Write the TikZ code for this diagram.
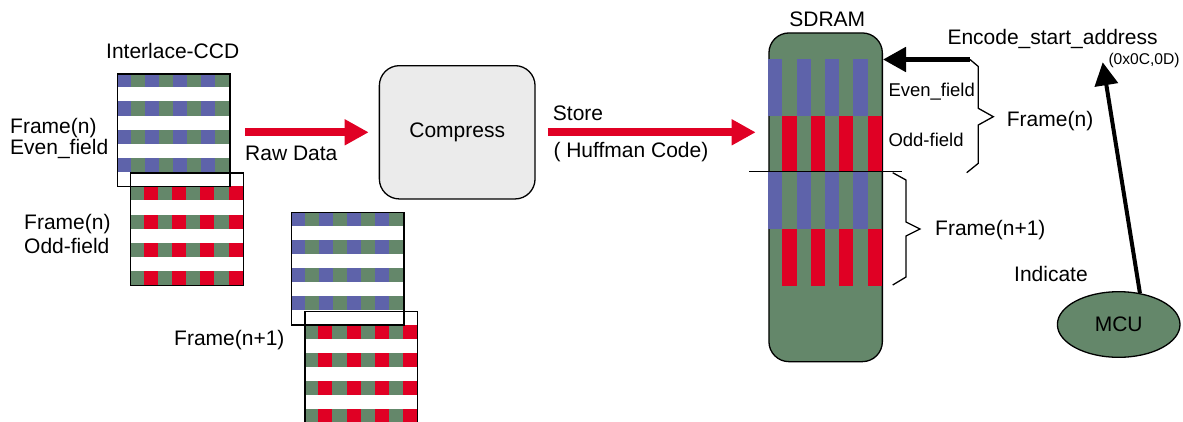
\documentclass[tikz,border=0pt]{standalone}
\usepackage{fontspec}
\setmainfont{Liberation Sans}
\usetikzlibrary{arrows.meta,shapes.geometric}
\definecolor{ccdblue}{RGB}{94,99,170}
\definecolor{ccdgreen}{RGB}{100,135,106}
\definecolor{ccdred}{RGB}{224,0,36}
\definecolor{boxgray}{RGB}{235,235,235}
\newcommand\evenfield{%
  \foreach \r in {0,2,4,6}{%
    \fill[ccdgreen] (0,\r*14.08) rectangle ++(112.64,14.08);
    \foreach \c in {0,2,4,6}{\fill[ccdblue] (\c*14.08,\r*14.08) rectangle ++(14.08,14.08);}}}
\newcommand\oddfield{%
  \foreach \r in {1,3,5,7}{%
    \fill[ccdgreen] (0,\r*14.08) rectangle ++(112.64,14.08);
    \foreach \c in {1,3,5,7}{\fill[ccdred] (\c*14.08,\r*14.08) rectangle ++(14.08,14.08);}}}
\begin{document}
\begin{tikzpicture}[x=1pt,y=-1pt,
  lbl/.style={inner sep=0pt, anchor=base west, font=\fontsize{21}{25}\selectfont},
  lblc/.style={lbl, anchor=base},
  smalllbl/.style={inner sep=0pt, anchor=base west, font=\fontsize{18.5}{22}\selectfont},
  tinylbl/.style={inner sep=0pt, anchor=base west, font=\fontsize{15.6}{18}\selectfont},
  gridframe/.style={draw=black, line width=1.3pt, minimum width=112.64pt, minimum height=112.64pt, inner sep=0pt, anchor=north west},
  redarrow/.style={draw=ccdred, line width=7.7pt, -{Triangle[length=24pt,width=24.5pt]}, ccdred},
  blackarrow/.style={draw=black, line width=5pt, -{Triangle[length=23pt,width=24pt]}},
  mcuarrow/.style={draw=black, line width=4pt, -{Triangle[length=23pt,width=23pt]}},
  bracepath/.style={draw=black, line width=1.3pt},
]
\path[use as bounding box] (0,0) rectangle (1183,421);
\clip (0,0) rectangle (1183,421);

% CCD field grids
\begin{scope}[shift={(116.7,73.3)}]\evenfield\end{scope}
\begin{scope}[shift={(130,172.3)}]\oddfield\end{scope}
\begin{scope}[shift={(290.7,211.7)}]\evenfield\end{scope}
\begin{scope}[shift={(304.3,310.7)}]\oddfield\end{scope}
\node[gridframe] (ev1) at (116.7,73.3) {};
\node[gridframe] (od1) at (130,172.3) {};
\node[gridframe] (ev2) at (290.7,211.7) {};
\node[gridframe] (od2) at (304.3,310.7) {};

% left labels
\node[lblc] (ccdlbl) at (172.7,58) {Interlace-CCD};
\node[lbl] (fn1) at (10,133.3) {Frame(n)};
\node[lbl] (ev1lbl) at (10,154) {Even\_field};
\node[lbl] (fn2) at (24,229.3) {Frame(n)};
\node[lbl] (od1lbl) at (24,253.3) {Odd-field};
\node[lbl] (fn3) at (174,345) {Frame(n+1)};

% compress
\node[draw=black, line width=1.3pt, fill=boxgray, rounded corners=20pt,
      minimum width=155.7pt, minimum height=133.3pt, inner sep=0pt,
      font=\fontsize{21}{25}\selectfont] (compress) at (457.2,132.3) {Compress};

% SDRAM
\node[draw=black, line width=1.3pt, fill=ccdgreen, rounded corners=20pt,
      minimum width=113.4pt, minimum height=328.7pt, inner sep=0pt, anchor=north west]
      (sdram) at (768.3,32.3) {};
\begin{scope}[shift={(768.3,59)}]
  \foreach \c in {0,2,4,6}{\fill[ccdblue] (\c*14.17,0) rectangle ++(14.17,56.7);}
  \foreach \c in {1,3,5,7}{\fill[ccdred] (\c*14.17,56.7) rectangle ++(14.17,56);}
  \foreach \c in {0,2,4,6}{\fill[ccdblue] (\c*14.17,112.7) rectangle ++(14.17,57.3);}
  \foreach \c in {1,3,5,7}{\fill[ccdred] (\c*14.17,170) rectangle ++(14.17,56.7);}
\end{scope}
\node[lblc] (sdramlbl) at (827.3,26) {SDRAM};

% arrows
\coordinate (rawS) at (245,132.3);
\draw[redarrow] (rawS) -- ([xshift=-10pt]compress.west);
\node[lbl] (rawlbl) at (245,160.5) {Raw Data};
\path (compress.east) ++(12,0) coordinate (storeS);
\path (sdram.west |- compress.east) ++(-12.6,0) coordinate (storeE);
\draw[redarrow] (storeS) -- (storeE);
\node[lbl] (storelbl) at (552.7,120.7) {Store};
\node[lbl] (hufflbl) at (553.3,157.5) {( Huffman Code)};

% frame separator line
\coordinate (sepS) at (749,171.7);
\coordinate (sepE) at (901.7,171.7);
\draw[line width=1.3pt] (sepS) -- (sepE);

% encode start arrow and brace
\coordinate (addrS) at (970,59.5);
\draw[bracepath] (addrS) -- (978.3,66.5) -- (978.3,108.3) -- (993.3,116.7) -- (978.3,125) -- (978.3,163.3) -- (966.7,172.7);
\draw[blackarrow] (addrS) -- (sdram.east |- addrS);
\node[smalllbl] (evlbl) at (888.3,96) {Even\_field};
\node[smalllbl] (odlbl) at (888.3,146.5) {Odd-field};
\node[lbl] (fnr) at (1006.7,126) {Frame(n)};

% frame(n+1) brace
\draw[bracepath] (892.7,172.7) -- (906,180) -- (906,222) -- (920,229) -- (906,236) -- (906,277) -- (892.7,285);
\node[lbl] (fn1r) at (935,235) {Frame(n+1)};

\node[lbl] (enclbl) at (947.3,44) {Encode\_start\_address};
\node[tinylbl] (addrlbl) at (1108.3,64.5) {(0x0C,0D)};

% MCU
\node[ellipse, draw=black, line width=1.3pt, fill=ccdgreen, minimum width=122.6pt,
      minimum height=65.6pt, inner sep=0pt, font=\fontsize{21}{25}\selectfont]
      (mcu) at (1118.7,324.5) {MCU};
\coordinate (addrT) at (1102.7,62.3);
\draw[mcuarrow] (mcu.56) -- (addrT);
\node[lbl] (indlbl) at (1014,281.7) {Indicate};
\end{tikzpicture}
\end{document}
